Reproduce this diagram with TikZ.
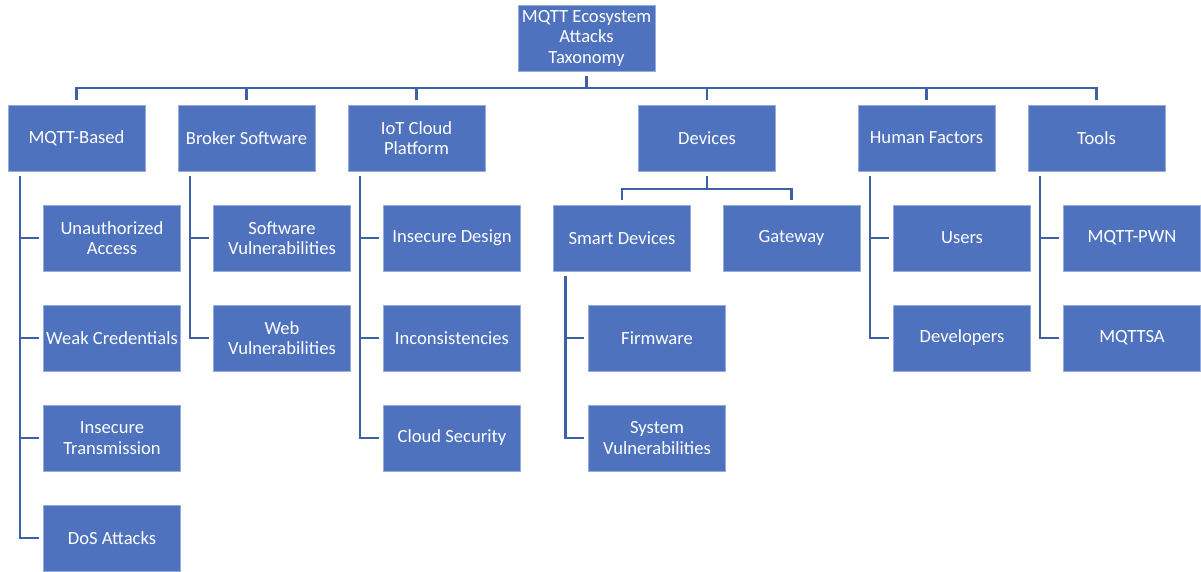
\documentclass[tikz,border=0pt]{standalone}
\usepackage{fontspec}
\setmainfont{Carlito}
\definecolor{boxfill}{RGB}{78,114,190}
\definecolor{boxedge}{RGB}{150,172,218}
\definecolor{linkcol}{RGB}{62,96,164}
\begin{document}
\begin{tikzpicture}[x=1pt,y=-1pt,
  box/.style={rectangle, fill=boxfill, draw=boxedge, line width=0.6pt,
    minimum width=137pt, minimum height=66pt, inner sep=1pt, outer sep=5pt,
    text=white, align=center, font=\fontsize{18.6}{20.5}\selectfont},
  link/.style={draw=linkcol, line width=2.4pt}]
\useasboundingbox (0,0) rectangle (1201,571);
% root
\node[box] (root) at (586.5,38) {MQTT Ecosystem\\Attacks\\Taxonomy};
% top level
\node[box] (mq) at (76.5,138) {MQTT-Based};
\node[box] (bs) at (246.5,138) {Broker Software};
\node[box] (iot) at (416.5,138) {IoT Cloud\\Platform};
\node[box] (dev) at (707,138) {Devices};
\node[box] (hf) at (926.5,138) {Human Factors};
\node[box] (tl) at (1096.5,138) {Tools};
% MQTT-Based children
\node[box] (ua) at (112,238) {Unauthorized\\Access};
\node[box] (wc) at (112,338) {Weak Credentials};
\node[box] (it) at (112,438) {Insecure\\Transmission};
\node[box] (dos) at (112,538) {DoS Attacks};
% Broker children
\node[box] (sv) at (282,238) {Software\\Vulnerabilities};
\node[box] (wv) at (282,338) {Web\\Vulnerabilities};
% IoT children
\node[box] (id) at (452,238) {Insecure Design};
\node[box] (inc) at (452,338) {Inconsistencies};
\node[box] (cs) at (452,438) {Cloud Security};
% Devices children
\node[box] (sd) at (622,238) {Smart Devices};
\node[box] (gw) at (791.5,238) {Gateway};
\node[box] (fw) at (657,338) {Firmware};
\node[box] (sysv) at (657,438) {System\\Vulnerabilities};
% Human factors children
\node[box] (us) at (962,238) {Users};
\node[box] (devs) at (962,338) {Developers};
% Tools children
\node[box] (mp) at (1132,238) {MQTT-PWN};
\node[box] (ms) at (1132,338) {MQTTSA};
% bus coordinates
\coordinate (bus) at (586.5,88);
\coordinate (dbus) at (707,189);
% root connectors
\draw[link] (root.south) -- (bus);
\foreach \n in {mq,bs,iot,dev,hf,tl}{\draw[link] (\n.north) |- (bus);}
% devices connectors
\draw[link] (dev.south) -- (dbus);
\draw[link] (sd.north) |- (dbus);
\draw[link] (gw.north) |- (dbus);
% spines
\foreach \p/\c in {mq/ua,mq/wc,mq/it,mq/dos,bs/sv,bs/wv,iot/id,iot/inc,iot/cs,sd/fw,sd/sysv,hf/us,hf/devs,tl/mp,tl/ms}{
  \draw[link] ([xshift=17pt]\p.south west) |- (\c.west);}
\end{tikzpicture}
\end{document}
